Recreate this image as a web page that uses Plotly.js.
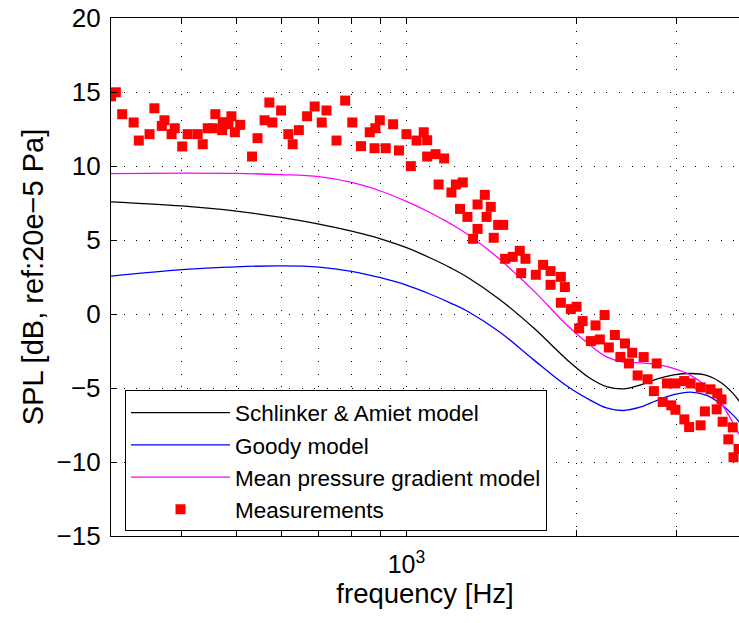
<!DOCTYPE html>
<html>
<head>
<meta charset="utf-8">
<script src="https://cdn.plot.ly/plotly-3.0.1.min.js"></script>
<style>html,body{margin:0;padding:0;background:#fff;}#chart{width:739px;height:623px;}</style>
</head>
<body>
<div id="chart"></div>
<script>
// Model curves: frequency [Hz] and SPL [dB]
const modelFreq = [300, 400, 500, 600, 700, 800, 900, 1000, 1100, 1200, 1280, 1460, 1680, 1920, 2110, 2260, 2420, 2590, 2770, 2970, 3180, 3400, 3590, 3790, 3900];
const schlinkerAmiet = [7.58, 7.3, 6.95, 6.53, 6.07, 5.6, 5.08, 4.48, 3.8, 3.1, 2.5, 1.0, -0.95, -3.06, -4.32, -4.9, -5.06, -4.8, -4.4, -4.12, -4.02, -4.15, -4.6, -5.4, -6.0];
const goody = [2.56, 3.0, 3.19, 3.25, 3.17, 2.88, 2.45, 1.95, 1.35, 0.72, 0.2, -1.2, -3.1, -4.85, -5.8, -6.35, -6.52, -6.3, -5.85, -5.45, -5.28, -5.5, -6.05, -6.85, -7.4];
const meanPressureGradient = [9.49, 9.52, 9.5, 9.42, 9.28, 8.89, 8.31, 7.61, 6.86, 6.07, 5.41, 3.72, 1.56, -0.72, -2.08, -2.9, -3.25, -3.3, -3.4, -3.67, -4.13, -4.92, -5.93, -7.4, -8.3];

// Measurements
const measFreq = [
  300, 306, 314, 329, 336, 351, 358, 369, 373, 384,
  389, 401, 410, 427, 436, 445, 454, 459, 472, 473,
  484, 490, 497, 508, 533, 545, 561, 572, 579, 600,
  618, 629, 645, 667, 688, 708, 722, 752, 779, 802,
  831, 861, 878, 881, 897, 919, 947, 970, 1000, 1018,
  1042, 1073, 1088, 1088, 1126, 1140, 1166, 1201, 1223, 1244,
  1258, 1282, 1312, 1336, 1336, 1376, 1386, 1410, 1427, 1453,
  1483, 1495, 1542, 1587, 1596, 1624, 1694, 1745, 1799, 1799,
  1876, 1876, 1907, 1954, 2000, 2021, 2050, 2120, 2161, 2199,
  2242, 2281, 2338, 2391, 2436, 2476, 2509, 2565, 2629, 2672,
  2741, 2772, 2841, 2890, 2942, 2992, 2992, 3101, 3103, 3164,
  3183, 3315, 3317, 3374, 3453, 3540, 3548, 3610, 3627, 3712,
  3779, 3791, 3870
];
const measSPL = [
  14.71, 14.98, 13.50, 12.94, 11.72, 12.15, 13.90, 12.71, 13.09, 12.15,
  12.55, 11.32, 12.15, 12.15, 11.47, 12.55, 12.55, 13.50, 12.42, 12.96,
  12.82, 13.36, 12.28, 12.78, 10.64, 11.88, 13.09, 14.29, 12.94, 13.75,
  12.15, 11.47, 12.42, 13.36, 14.02, 12.94, 13.75, 11.72, 14.42, 12.94,
  11.34, 12.28, 11.20, 12.55, 13.09, 11.20, 12.82, 11.05, 12.15, 9.99,
  11.72, 12.28, 11.74, 10.64, 10.80, 8.75, 10.51, 8.21, 8.75, 7.10,
  8.89, 6.56, 5.08, 7.40, 5.75, 8.05, 6.56, 7.24, 5.15, 6.02,
  6.02, 3.73, 3.86, 4.27, 2.76, 3.73, 2.65, 3.32, 2.90, 1.97,
  2.51, 0.76, 1.82, 0.33, 0.49, -0.97, -0.48, -1.83, -0.77, -1.72,
  -0.07, -2.26, -1.42, -2.90, -1.99, -3.34, -2.62, -4.15, -2.91, -4.41,
  -5.21, -3.34, -5.94, -4.69, -6.17, -4.69, -6.47, -4.53, -7.12, -7.64,
  -4.69, -7.52, -4.96, -6.58, -5.09, -6.44, -5.36, -5.77, -7.28, -8.47,
  -7.66, -9.68, -9.12
];

const xTickVals = [1000];
const xTickText = ['10<sup>3</sup>'];
const xMinorVals = [400, 500, 600, 700, 800, 900, 2000, 3000];
const yTickVals = [-15, -10, -5, 0, 5, 10, 15, 20];
const seriesNames = ['Schlinker & Amiet model', 'Goody model', 'Mean pressure gradient model', 'Measurements'];

const FONT = 'Liberation Sans, Arial, Helvetica, sans-serif';
const DOTS = '1px,11.7px';

const traces = [
  {x: modelFreq, y: schlinkerAmiet, name: seriesNames[0], mode: 'lines',
   line: {color: '#000000', width: 1.3, shape: 'spline', smoothing: 1}},
  {x: modelFreq, y: goody, name: seriesNames[1], mode: 'lines',
   line: {color: '#0000ff', width: 1.3, shape: 'spline', smoothing: 1}},
  {x: modelFreq, y: meanPressureGradient, name: seriesNames[2], mode: 'lines',
   line: {color: '#ff00ff', width: 1.3, shape: 'spline', smoothing: 1}},
  {x: measFreq, y: measSPL, name: seriesNames[3], mode: 'markers',
   marker: {symbol: 'square', size: 10, color: '#ff0000', line: {width: 0}}}
];

const layout = {
  width: 739, height: 623,
  margin: {l: 111, r: 0, t: 18, b: 87},
  paper_bgcolor: '#ffffff', plot_bgcolor: '#ffffff',
  font: {family: FONT, color: '#000000'},
  showlegend: true,
  legend: {
    x: 0.0223, y: 0.1448, xanchor: 'left', yanchor: 'middle',
    bgcolor: '#ffffff', bordercolor: '#000000', borderwidth: 1,
    font: {family: FONT, size: 22.5, color: '#000000'},
    itemwidth: 99, tracegroupgap: 0
  },
  xaxis: {
    type: 'log',
    range: [Math.log10(300), Math.log10(3877)],
    tickmode: 'array', tickvals: xTickVals, ticktext: xTickText,
    ticks: 'inside', ticklen: 6, tickwidth: 1, tickcolor: '#000000',
    showline: true, linecolor: '#000000', linewidth: 1.2, mirror: 'ticks',
    showgrid: true, gridcolor: '#000000', gridwidth: 1, griddash: DOTS,
    minor: {tickmode: 'array', tickvals: xMinorVals, ticks: 'inside', ticklen: 6,
            tickcolor: '#000000', showgrid: true, gridcolor: '#000000', gridwidth: 1, griddash: DOTS},
    tickfont: {family: FONT, size: 25, color: '#000000'},
    ticklabelstandoff: 6,
    zeroline: false,
    title: {text: 'frequency [Hz]', font: {family: FONT, size: 27.5, color: '#000000'}, standoff: 4}
  },
  yaxis: {
    range: [-15, 20],
    tickmode: 'array', tickvals: yTickVals,
    ticks: 'inside', ticklen: 6, tickwidth: 1, tickcolor: '#000000',
    showline: true, linecolor: '#000000', linewidth: 1.2, mirror: false,
    showgrid: true, gridcolor: '#000000', gridwidth: 1, griddash: DOTS,
    tickfont: {family: FONT, size: 26, color: '#000000'},
    ticklabelstandoff: 4,
    zeroline: false,
    title: {text: 'SPL [dB, ref:20e\u22125 Pa]', font: {family: FONT, size: 29, color: '#000000'}}
  }
};

Plotly.newPlot('chart', traces, layout, {displayModeBar: false, staticPlot: true});
</script>
</body>
</html>
